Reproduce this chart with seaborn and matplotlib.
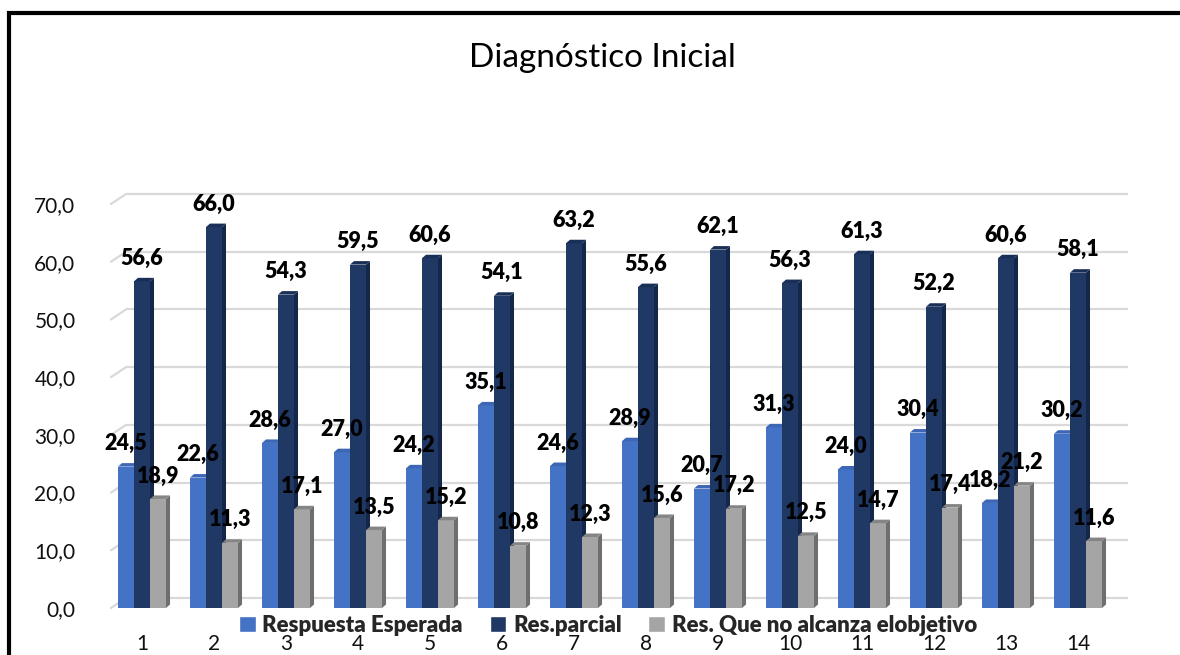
import numpy as np
import pandas as pd
import matplotlib
matplotlib.use("Agg")
import matplotlib.pyplot as plt
import matplotlib.transforms as mtransforms
from matplotlib.patches import Polygon, Rectangle
import seaborn as sns

# ---- data ----
items = [str(i) for i in range(1, 15)]
series = ["Respuesta Esperada", "Res.parcial", "Res. Que no alcanza elobjetivo"]
esperada = [24.5, 22.6, 28.6, 27.0, 24.2, 35.1, 24.6, 28.9, 20.7, 31.3, 24.0, 30.4, 18.2, 30.2]
parcial = [56.6, 66.0, 54.3, 59.5, 60.6, 54.1, 63.2, 55.6, 62.1, 56.3, 61.3, 52.2, 60.6, 58.1]
no_alcanza = [18.9, 11.3, 17.1, 13.5, 15.2, 10.8, 12.3, 15.6, 17.2, 12.5, 14.7, 17.4, 21.2, 11.6]
yticks = [0, 10, 20, 30, 40, 50, 60, 70]
title = "Diagnóstico Inicial"

front_colors = ["#4472C4", "#203864", "#A5A5A5"]
side_colors = ["#335AA0", "#14264A", "#6E6E6E"]
top_colors = ["#3D67B5", "#1A2F57", "#858585"]

df = pd.DataFrame({
    "item": items * 3,
    "serie": [series[0]] * 14 + [series[1]] * 14 + [series[2]] * 14,
    "valor": esperada + parcial + no_alcanza,
})

sns.set_theme(style="white")
plt.rcParams["font.family"] = ["Lato", "DejaVu Sans"]

W, H = 1180, 655
fig = plt.figure(figsize=(W / 100, H / 100), dpi=100)
ax = fig.add_axes([106 / W, 1 - 608 / H, (1114 - 106) / W, (608 - 204) / H])

sns.barplot(data=df, x="item", y="valor", hue="serie", order=items,
            hue_order=series, palette=front_colors, width=0.667,
            saturation=1, dodge=True, ax=ax, legend=True, errorbar=None)

ax.set_xlim(-0.5, 13.5)
ax.set_ylim(0, 70)
for s in ax.spines.values():
    s.set_visible(False)

# px -> data conversion for the 3D depth of each bar
px_x = (13.5 + 0.5) / (1114 - 106)
px_y = 70 / (608 - 204)
bdx, bdy = 4 * px_x, 3.5 * px_y

for k, cont in enumerate(ax.containers):
    z = 2 + k * 0.3
    for p in cont.patches:
        p.set_zorder(z)
        p.set_edgecolor("none")
        x0, w, h = p.get_x(), p.get_width(), p.get_height()
        x1 = x0 + w
        side = Polygon([(x1, 0), (x1 + bdx, bdy), (x1 + bdx, h + bdy), (x1, h)],
                       closed=True, facecolor=side_colors[k], edgecolor="none",
                       zorder=z + 0.1)
        top = Polygon([(x0, h), (x0 + bdx, h + bdy), (x1 + bdx, h + bdy), (x1, h)],
                      closed=True, facecolor=top_colors[k], edgecolor="none",
                      zorder=z + 0.1)
        ax.add_patch(side)
        ax.add_patch(top)
        ax.annotate(f"{h:.1f}".replace(".", ","), (x0 + w / 2, h),
                    xytext=(0, 9), textcoords="offset points",
                    ha="center", va="bottom", fontsize=15.5, fontweight="heavy",
                    color="black", zorder=10)

# back-wall gridlines with slanted floor edge on the left
back = mtransforms.offset_copy(ax.transData, fig=fig, x=14, y=10, units="dots")
for yv in yticks:
    ax.plot([-0.5 + 6 * px_x, 13.5], [yv, yv], transform=back, color="#D9D9D9",
            lw=1.6, zorder=0.5, clip_on=False, solid_capstyle="butt")
    ax.plot([-0.5 - 9 * px_x, -0.5 + 6 * px_x], [yv - 10 * px_y, yv],
            transform=back, color="#D9D9D9", lw=1.6, zorder=0.5, clip_on=False)

ax.set_yticks(yticks)
ax.set_yticklabels([f"{v:.1f}".replace(".", ",") for v in yticks])
ax.set_xticks(range(len(items)))
ax.set_xticklabels(items)
ax.tick_params(axis="y", length=0, pad=22, labelsize=15, labelcolor="#111111")
ax.tick_params(axis="x", length=0, pad=19, labelsize=15, labelcolor="#111111")
ax.set_xlabel("")
ax.set_ylabel("")

# legend below the plot area
handles, labels = ax.get_legend_handles_labels()
ax.get_legend().remove()
fig.legend(handles, labels, loc="center", bbox_to_anchor=(608 / W, 1 - 625 / H),
           ncol=3, frameon=False, handlelength=0.75, handleheight=0.75,
           handletextpad=0.3, columnspacing=1.2,
           prop={"family": ["Lato", "DejaVu Sans"], "weight": "heavy", "size": 16})

fig.text(602 / W, 1 - 58 / H, title, ha="center", va="center", fontsize=24,
         color="black")

# outer chart frame
fig.patches.append(Rectangle((9 / W, -0.5), 2, (1 - 13 / H) + 0.5,
                             transform=fig.transFigure, fill=False,
                             edgecolor="black", linewidth=3))

fig.savefig("out.png", dpi=100)
